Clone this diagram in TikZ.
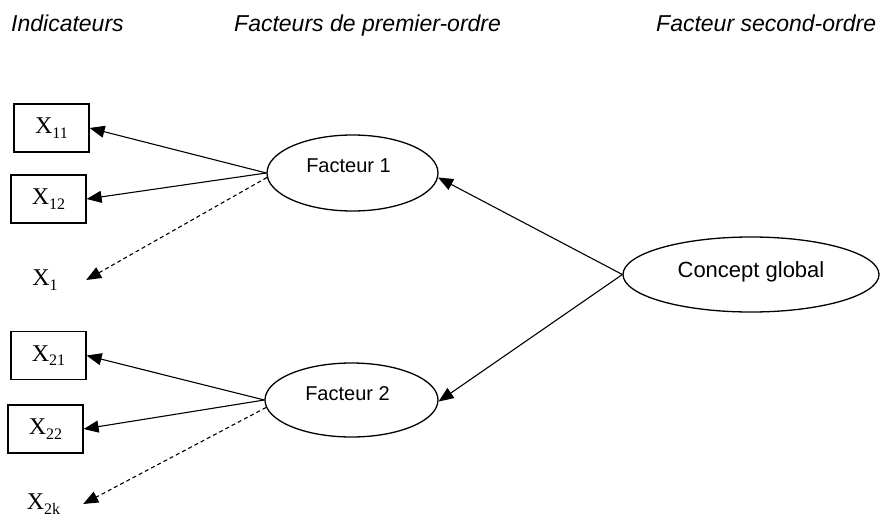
\documentclass[tikz,border=0pt]{standalone}
\usepackage{fontspec}
\setmainfont{Liberation Sans}
\newfontfamily\xfont{Liberation Serif}
\usetikzlibrary{arrows.meta,shapes.geometric}

\newcommand{\xsub}[1]{{\xfont\fontsize{24}{24}\selectfont X\raisebox{-4.5pt}{\fontsize{16}{16}\selectfont #1}}}

\begin{document}
\begin{tikzpicture}[x=1pt,y=-1pt,>={Triangle[length=15pt,width=12pt]}]

      \useasboundingbox (0,0) rectangle (880,519);

      \begin{scope}[every node/.style={anchor=base west, inner sep=0pt, font=\fontsize{23}{23}\selectfont\itshape}]
        \node (h1) at (11,32) {Indicateurs};
        \node (h2) at (234,32) {Facteurs de premier-ordre};
        \node (h3) at (656,32) {Facteur second-ordre};
      \end{scope}

      \begin{scope}[every node/.style={minimum width=75pt, minimum height=48pt, inner sep=0pt}]
        \node[draw, line width=1.2pt] (x11) at (51.5,128) {\xsub{11}};
        \node[draw, line width=1.2pt] (x12) at (48.5,199) {\xsub{12}};
        \node[minimum width=82pt, minimum height=0pt] (x1) at (45,280) {\xsub{1}};
        \node[draw, line width=1.2pt] (x21) at (48.5,355.5) {\xsub{21}};
        \node[draw, line width=1.2pt] (x22) at (45.5,429) {\xsub{22}};
        \node[minimum width=79pt, minimum height=0pt] (x2k) at (43.5,504) {\xsub{2k}};
      \end{scope}

      \begin{scope}[every node/.style={ellipse, draw, line width=1.3pt, inner sep=0pt},
                    every label/.style={draw=none, ellipse=false, font=\fontsize{20}{20}\selectfont}]
        \node[minimum width=171pt, minimum height=76pt,
              label={[xshift=-4pt, yshift=7pt]center:Facteur 1}] (f1) at (352.5,173) {};
        \node[minimum width=173pt, minimum height=74pt,
              label={[xshift=-4pt, yshift=6pt]center:Facteur 2}] (f2) at (351.5,400) {};
        \node[minimum width=256pt, minimum height=75pt,
              label={[yshift=3pt, font=\fontsize{22}{22}\selectfont]center:Concept global}] (g) at (751,274.5) {};
      \end{scope}

      \begin{scope}[every edge/.style={draw, ->, line width=1.1pt}]
        \path (f1.west) edge (x11.east);
        \path (f1.west) edge (x12.east);
        \path (f1.183) edge[dash pattern=on 4pt off 3pt] (x1.east);
        \path (f2.west) edge (x21.east);
        \path (f2.west) edge (x22.east);
        \path (f2.185) edge[dash pattern=on 4pt off 3pt] (x2k.east);
        \path (g.west) edge (f1.-3);
        \path (g.west) edge (f2.-1);
      \end{scope}

    \end{tikzpicture}
\end{document}
